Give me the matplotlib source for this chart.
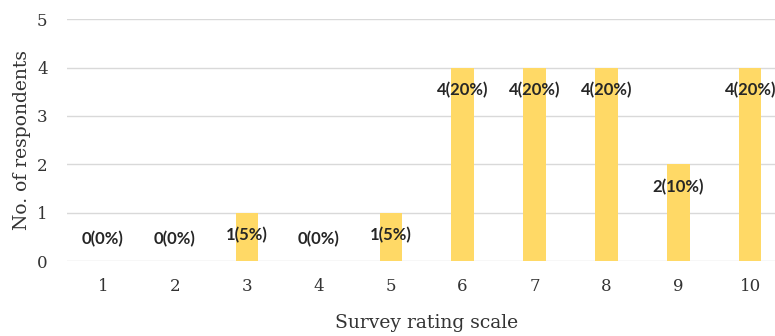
import matplotlib
matplotlib.use("Agg")
from matplotlib import pyplot as plt

ratings = [1, 2, 3, 4, 5, 6, 7, 8, 9, 10]
counts = [0, 0, 1, 0, 1, 4, 4, 4, 2, 4]
labels = ["0(0%)", "0(0%)", "1(5%)", "0(0%)", "1(5%)",
          "4(20%)", "4(20%)", "4(20%)", "2(10%)", "4(20%)"]

fig = plt.figure(figsize=(7.75, 3.36), dpi=100)
ax = fig.add_axes([0.0865, 0.223, 0.928, 0.72])

x = list(range(len(ratings)))
ax.bar(x, counts, width=0.31, color="#FFD966", zorder=2)

for i in range(len(x)):
    ypos = counts[i] - 0.47 if counts[i] > 0 else 0.45
    ax.text(x[i], ypos, labels[i], ha="center", va="center",
            fontsize=12, fontweight="bold", family="Lato", color="#262626", zorder=3)

ax.set_xlim(-0.5, len(x) - 0.5)
ax.set_ylim(0, 5)
ax.set_yticks([0, 1, 2, 3, 4, 5])
ax.set_xticks(x)
ax.set_xticklabels([str(r) for r in ratings])
ax.grid(axis="y", color="#d9d9d9", linewidth=1, zorder=0)
for s in ax.spines.values():
    s.set_visible(False)
ax.tick_params(length=0, labelsize=12, labelcolor="#333333", pad=12)
ax.tick_params(axis="y", pad=14)
for t in ax.get_xticklabels() + ax.get_yticklabels():
    t.set_family("DejaVu Serif")
ax.set_xlabel("Survey rating scale", fontsize=13.5, family="DejaVu Serif", color="#333333", labelpad=14)
ax.set_ylabel("No. of respondents", fontsize=13.5, family="DejaVu Serif", color="#333333", labelpad=4)

plt.savefig("out.png", dpi=100)
